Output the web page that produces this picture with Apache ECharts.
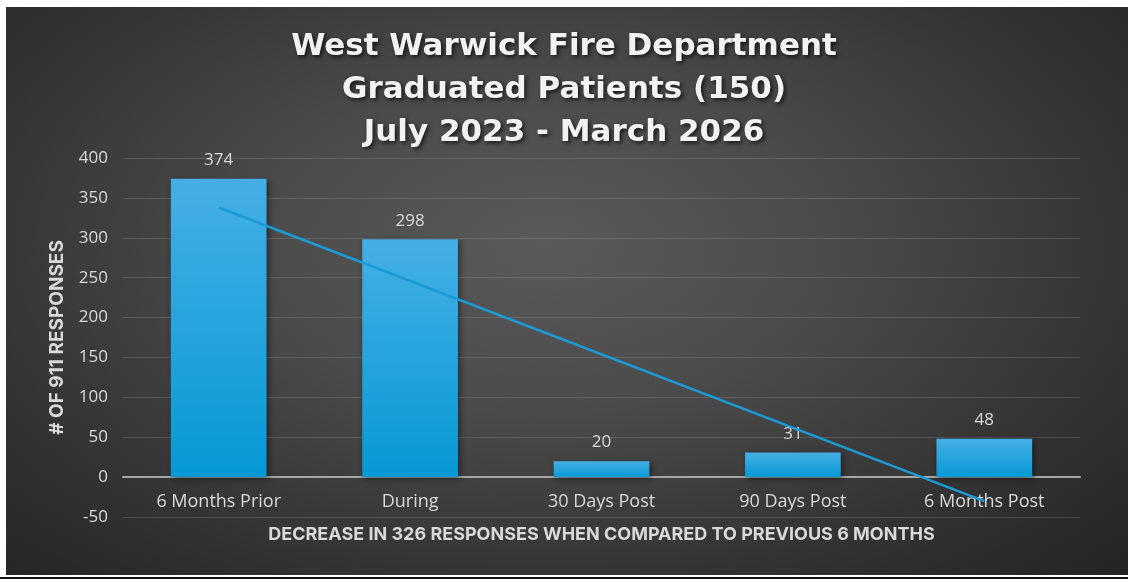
<!DOCTYPE html>
<html>
<head>
<meta charset="utf-8">
<script src="https://cdn.jsdelivr.net/npm/echarts@6/dist/echarts.min.js"></script>
<style>
  html, body { margin: 0; padding: 0; background: #ffffff; width: 1128px; height: 583px; overflow: hidden; }
  #frame {
    position: absolute; left: 6px; top: 7px; width: 1122px; height: 568px;
    background: radial-gradient(ellipse 75% 85% at 48% 42%, #5a5a5a 0%, #4a4a4a 35%, #333333 70%, #222222 100%);
  }
  #rule { position: absolute; left: 0; top: 577px; width: 1128px; height: 2px; background: #111; }
  #chart { position: absolute; left: 0; top: 0; width: 1128px; height: 583px; }
</style>
</head>
<body>
<div id="frame"></div>
<div id="rule"></div>
<div id="chart"></div>
<script>
const titleLines = ['West Warwick Fire Department', 'Graduated Patients (150)', 'July 2023 - March 2026'];
const categories = ['6 Months Prior', 'During', '30 Days Post', '90 Days Post', '6 Months Post'];
const responses = [374, 298, 20, 31, 48];
// linear trendline endpoints
const trendValues = [338, null, null, null, -30];
const yAxisName = '# OF 911 RESPONSES';
const xAxisName = 'DECREASE IN 326 RESPONSES WHEN COMPARED TO PREVIOUS 6 MONTHS';

const chart = echarts.init(document.getElementById('chart'), null, { renderer: 'canvas' });
const labelColor = '#d9d9d9';
const plainFont = '"Open Sans", "Noto Sans", sans-serif';
chart.setOption({
  backgroundColor: 'transparent',
  animation: false,
  title: {
    text: titleLines.join('\n'),
    left: 'center',
    top: 20,
    textStyle: {
      color: '#f2f2f2',
      fontFamily: '"DejaVu Sans", sans-serif',
      fontWeight: 'bold',
      fontSize: 31,
      lineHeight: 43,
      textShadowColor: 'rgba(0,0,0,0.7)',
      textShadowBlur: 4,
      textShadowOffsetX: 2,
      textShadowOffsetY: 2
    }
  },
  grid: { left: 123, right: 48, top: 158, bottom: 66, containLabel: false },
  xAxis: {
    type: 'category',
    data: categories,
    axisLine: { onZero: true, lineStyle: { color: '#a6a6a6', width: 2 } },
    axisTick: { show: false },
    axisLabel: { color: labelColor, fontSize: 18, margin: -24, fontFamily: plainFont },
    name: xAxisName,
    nameLocation: 'middle',
    nameGap: 9,
    nameTextStyle: { color: labelColor, fontSize: 18, fontWeight: 'bold', fontFamily: 'Inter, "Open Sans", sans-serif' }
  },
  yAxis: {
    type: 'value',
    min: -50,
    max: 400,
    interval: 50,
    axisLine: { show: false },
    axisTick: { show: false },
    axisLabel: { color: labelColor, fontSize: 17, margin: 15, fontFamily: plainFont },
    splitLine: { lineStyle: { color: 'rgba(255,255,255,0.13)', width: 1 } },
    name: yAxisName,
    nameLocation: 'middle',
    nameGap: 56,
    nameRotate: 90,
    nameTextStyle: { color: labelColor, fontSize: 19, fontWeight: 'bold', fontFamily: 'Inter, "Open Sans", sans-serif' }
  },
  series: [
    {
      type: 'bar',
      data: responses,
      barWidth: '50%',
      itemStyle: {
        color: new echarts.graphic.LinearGradient(0, 0, 0, 1, [
          { offset: 0, color: '#45afe4' },
          { offset: 1, color: '#0699d6' }
        ]),
        shadowColor: 'rgba(0,0,0,0.45)',
        shadowBlur: 6,
        shadowOffsetX: 2,
        shadowOffsetY: 2
      },
      label: {
        show: true,
        position: 'top',
        distance: 10,
        color: labelColor,
        fontSize: 17,
        fontFamily: plainFont
      },
      z: 2
    },
    {
      type: 'line',
      data: trendValues,
      connectNulls: true,
      showSymbol: false,
      symbol: 'none',
      lineStyle: { color: '#1b9ad6', width: 2.5 },
      silent: true,
      z: 3
    }
  ]
});
</script>
</body>
</html>
